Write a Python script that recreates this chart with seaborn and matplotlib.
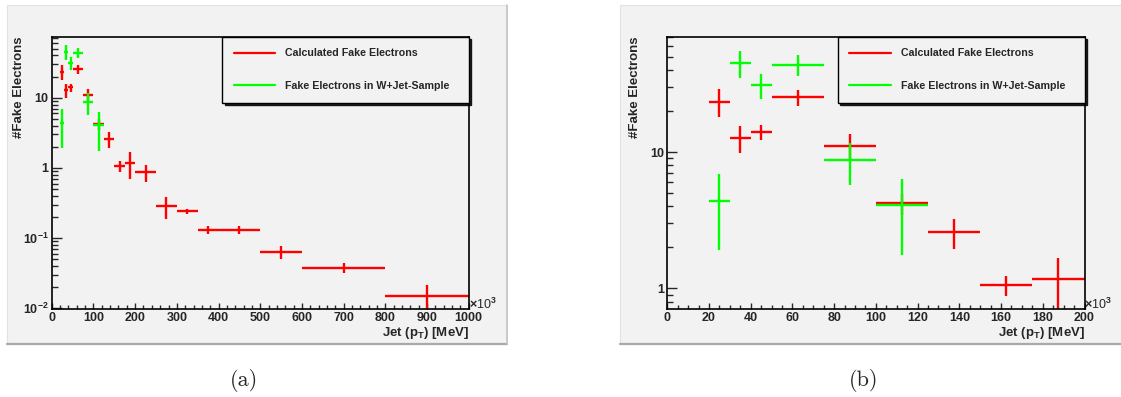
import numpy as np
import pandas as pd
import matplotlib
matplotlib.use("Agg")
import matplotlib.pyplot as plt
import seaborn as sns
from matplotlib.patches import Rectangle
from matplotlib.lines import Line2D
from matplotlib.ticker import MultipleLocator, LogLocator, NullFormatter

# ---------------- data (x in units of 10^3 MeV) ----------------
bin_edges = [20, 30, 40, 50, 75, 100, 125, 150, 175, 200, 250, 300, 350, 400, 500, 600, 800, 1000]
calc_vals = [23.5, 12.8, 14.0, 25.4, 11.1, 4.2, 2.59, 1.06, 1.18, 0.87, 0.289, 0.240,
             0.132, 0.131, 0.0637, 0.0382, 0.0150]
calc_errs = [5.5, 2.9, 1.8, 3.4, 2.4, 0.73, 0.64, 0.18, 0.49, 0.23, 0.10, 0.02,
             0.017, 0.018, 0.014, 0.0063, 0.0062]
wjet_vals = [4.4, 45.3, 31.1, 43.8, 8.75, 4.06]
wjet_errs = [2.5, 10.5, 6.5, 7.5, 3.0, 2.3]

series_labels = ["Calculated Fake Electrons", "Fake Electrons in W+Jet-Sample"]
series_colors = ["#ff0000", "#00ff00"]

panel_xmax = [1000, 200]
panel_xmajor = [100, 20]
panel_xminor = [20, 5]
panel_ylim = [(0.0098, 74.0), (0.705, 70.5)]
panel_yticks = [[0.01, 0.1, 1, 10], [1, 10]]
panel_yticklabels = [[r"$10^{-2}$", r"$10^{-1}$", "1", "10"], ["1", "10"]]
captions = ["(a)", "(b)"]

edges = np.array(bin_edges, dtype=float)
calc = pd.DataFrame({"center": (edges[:-1] + edges[1:]) / 2,
                     "half": (edges[1:] - edges[:-1]) / 2,
                     "val": calc_vals, "err": calc_errs})
nw = len(wjet_vals)
wjet = pd.DataFrame({"center": calc["center"][:nw], "half": calc["half"][:nw],
                     "val": wjet_vals, "err": wjet_errs})

# ---------------- style ----------------
sns.set_style("ticks")
plt.rcParams["font.family"] = ["Liberation Sans", "DejaVu Sans"]
plt.rcParams["font.weight"] = "bold"
plt.rcParams["mathtext.fontset"] = "custom"
plt.rcParams["mathtext.rm"] = "Liberation Sans:bold"
plt.rcParams["mathtext.it"] = "Liberation Sans:bold"
plt.rcParams["mathtext.bf"] = "Liberation Sans:bold"
plt.rcParams["mathtext.default"] = "rm"

W, H = 1121, 397
fig = plt.figure(figsize=(W / 100, H / 100), dpi=100)
fig.patch.set_facecolor("white")

BG = "#f2f2f2"
canvas_boxes = [(7, 5, 507, 344), (620, 5, 1125, 344)]
axes_boxes = [(51.8, 36.7, 468.6, 309.0), (667.3, 36.7, 1084.5, 309.0)]
caption_pos = [(244, 380), (864, 380)]
label_x = [-0.064, -0.063]

for i in range(2):
    x0, y0, x1, y1 = canvas_boxes[i]
    fig.patches.append(Rectangle((x0 / W, 1 - y1 / H), (x1 - x0) / W, (y1 - y0) / H,
                                 transform=fig.transFigure, facecolor=BG,
                                 edgecolor="#e2e2e2", lw=0.8, zorder=-3))
    fig.lines.append(Line2D([x0 / W, x1 / W], [1 - y1 / H, 1 - y1 / H],
                            transform=fig.transFigure, color="#a9a9a9", lw=1.6, zorder=-2))
    fig.lines.append(Line2D([x1 / W, x1 / W], [1 - y1 / H, 1 - y0 / H],
                            transform=fig.transFigure, color="#c4c4c4", lw=1.2, zorder=-2))

    ax0, ay0, ax1, ay1 = axes_boxes[i]
    ax = fig.add_axes([ax0 / W, 1 - ay1 / H, (ax1 - ax0) / W, (ay1 - ay0) / H])
    ax.set_zorder(1)
    ax.set_facecolor(BG)
    ax.set_yscale("log", nonpositive="clip")

    for df, col in ((calc, series_colors[0]), (wjet, series_colors[1])):
        ax.errorbar(df["center"], df["val"], xerr=df["half"], yerr=df["err"],
                    fmt="none", ecolor=col, elinewidth=1.7, capsize=0)

    ax.set_xlim(0, panel_xmax[i])
    ax.set_ylim(*panel_ylim[i])
    ax.xaxis.set_major_locator(MultipleLocator(panel_xmajor[i]))
    ax.xaxis.set_minor_locator(MultipleLocator(panel_xminor[i]))
    ax.set_yticks(panel_yticks[i])
    ax.set_yticklabels(panel_yticklabels[i])
    ax.yaxis.set_minor_locator(LogLocator(base=10, subs=np.arange(2, 10)))
    ax.yaxis.set_minor_formatter(NullFormatter())

    ax.tick_params(axis="x", which="major", direction="in", length=4.5, width=1,
                   labelsize=9, pad=2.5, top=False, bottom=True)
    ax.tick_params(axis="x", which="minor", direction="in", length=3, width=1,
                   top=False, bottom=True)
    ax.tick_params(axis="y", which="major", direction="in", length=7.2, width=1,
                   labelsize=9, pad=2.5, left=True, right=False)
    ax.tick_params(axis="y", which="minor", direction="in", length=4, width=1,
                   left=True, right=False)
    for lab in ax.get_xticklabels() + ax.get_yticklabels():
        lab.set_fontweight("bold")
    for sp in ax.spines.values():
        sp.set_visible(True)
        sp.set_color("black")
        sp.set_linewidth(1.2)

    ax.set_ylabel("#Fake Electrons", fontsize=9.5, fontweight="bold", loc="top")
    ax.yaxis.set_label_coords(label_x[i], 1.0)
    ax.set_xlabel(r"Jet (p$_{T}$) [MeV]", fontsize=9.5, fontweight="bold", loc="right")
    ax.xaxis.set_label_coords(1.0, -0.058)

    ax.text(1.0, 0.016, r"$\times$10$^{3}$", transform=ax.transAxes, ha="left",
            va="center", fontsize=9, fontweight="normal")

    handles = [Line2D([], [], color=c, lw=1.6) for c in series_colors]
    leg = ax.legend(handles, series_labels, loc="upper left",
                    bbox_to_anchor=(0.408, 0.761, 0.592, 0.239), mode="expand",
                    borderaxespad=0, frameon=True, fancybox=False,
                    edgecolor="black", facecolor=BG, framealpha=1,
                    shadow={"color": "black", "alpha": 0.85},
                    prop={"weight": "bold", "size": 7.7},
                    handlelength=3.9, handletextpad=0.9, borderpad=1.1,
                    labelspacing=2.1)
    leg.get_frame().set_linewidth(1.0)

    cx, cy = caption_pos[i]
    fig.text(cx / W, 1 - cy / H, captions[i], fontfamily="cmr10", fontsize=16,
             fontweight="normal", ha="center", va="center")

fig.savefig("out.png", dpi=100)
